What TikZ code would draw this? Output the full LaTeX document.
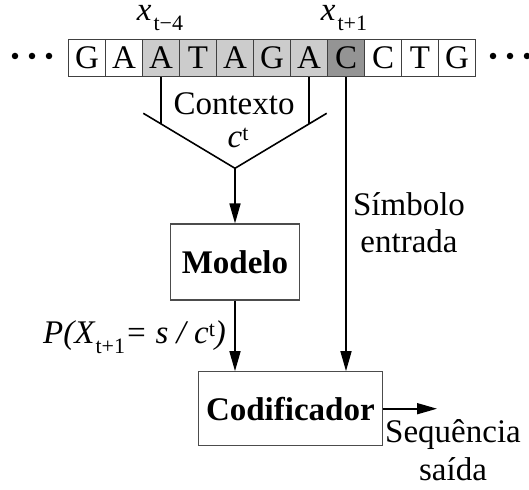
\documentclass[tikz,border=0pt]{standalone}
\usepackage{fontspec}
\setmainfont{Liberation Serif}
\usetikzlibrary{arrows.meta,calc}
\begin{document}
\begin{tikzpicture}[x=1pt,y=-1pt,
  cell/.style={draw=black!75, line width=1.1pt, minimum width=37pt, minimum height=37pt, inner sep=0pt, text height=22pt, text depth=0pt, font=\fontsize{33}{37}\selectfont},
  ctx/.style={cell, fill=black!20},
  cur/.style={cell, fill=black!42},
  blk/.style={draw=black!70, line width=1.1pt, inner sep=0pt, font=\fontsize{33}{37}\selectfont\bfseries},
  lbl/.style={inner sep=0pt, font=\fontsize{33}{37}\selectfont},
  idx/.style={lbl, text height=14pt},
  conn/.style={line width=1.6pt},
  arr/.style={conn, -{Triangle[length=20pt,width=11pt]}},
  dotmark/.style={fill=black, circle, inner sep=0pt, minimum size=6.5pt}
]
\useasboundingbox (0,0) rectangle (529,489);

% sequence cells
\node[cell] (c1) at (87,58) {G};
\node[cell] (c2) at (124,58) {A};
\node[ctx] (c3) at (161,58) {A};
\node[ctx] (c4) at (198,58) {T};
\node[ctx] (c5) at (235,58) {A};
\node[ctx] (c6) at (272,58) {G};
\node[ctx] (c7) at (309,58) {A};
\node[cur] (c8) at (346,58) {C};
\node[cell] (c9) at (383,58) {C};
\node[cell] (c10) at (420,58) {T};
\node[cell] (c11) at (457,58) {G};

% dots
\node[dotmark] (d1) at (15,56) {};
\node[dotmark] (d2) at (32,56) {};
\node[dotmark] (d3) at (49,56) {};
\node[dotmark] (d4) at (493,56) {};
\node[dotmark] (d5) at (510,56) {};
\node[dotmark] (d6) at (527,56) {};

% index labels
\node[idx, anchor=base] (xa) at (160,21) {\textit{x}\kern2pt\raisebox{-10pt}{\fontsize{22}{22}\selectfont t−4}};
\node[idx, anchor=base] (xb) at (344,21) {\textit{x}\kern2pt\raisebox{-10pt}{\fontsize{22}{22}\selectfont t+1}};

% context funnel
\coordinate (vL) at (143.3,113.3);
\coordinate (vA) at (235,168.3);
\coordinate (vR) at (326.7,113.3);
\draw[conn] (vL) -- (vA) -- (vR);
\draw[conn] (c3.south) -- (intersection of c3.south--c3.center and vL--vA);
\draw[conn] (c7.south) -- (intersection of c7.south--c7.center and vR--vA);
\node[lbl, anchor=base] (ctxt) at (234,115) {Contexto};
\node[lbl, anchor=base] (ct) at (238,148) {\textit{c}\raisebox{8pt}{\fontsize{22}{22}\selectfont t}};

% blocks
\node[blk, minimum width=129pt, minimum height=76pt] (mod) at (235,262) {Modelo};
\node[blk, minimum width=184pt, minimum height=74pt] (cod) at (290.4,408.7) {Codificador};

% connectors
\draw[arr] (vA) -- (mod.north);
\draw[arr] (mod.south) -- (mod.south |- cod.north);
\draw[arr] (c8.south) -- (c8.south |- cod.north);
\coordinate (out) at (437,408.7);
\draw[arr] (cod.east) -- (out);

% labels
\node[lbl, anchor=base] (sym1) at (409,215) {Símbolo};
\node[lbl, anchor=base] (sym2) at (409,252) {entrada};
\node[lbl, anchor=base] (seq1) at (453,442) {Sequência};
\node[lbl, anchor=base] (seq2) at (453,480) {saída};
\node[lbl, anchor=base west] (prob) at (43,343) {\textit{P(X}\raisebox{-10pt}{\fontsize{22}{22}\selectfont t+1}\textit{= s / c}\raisebox{7pt}{\fontsize{22}{22}\selectfont t}\textit{)}};
\end{tikzpicture}
\end{document}
